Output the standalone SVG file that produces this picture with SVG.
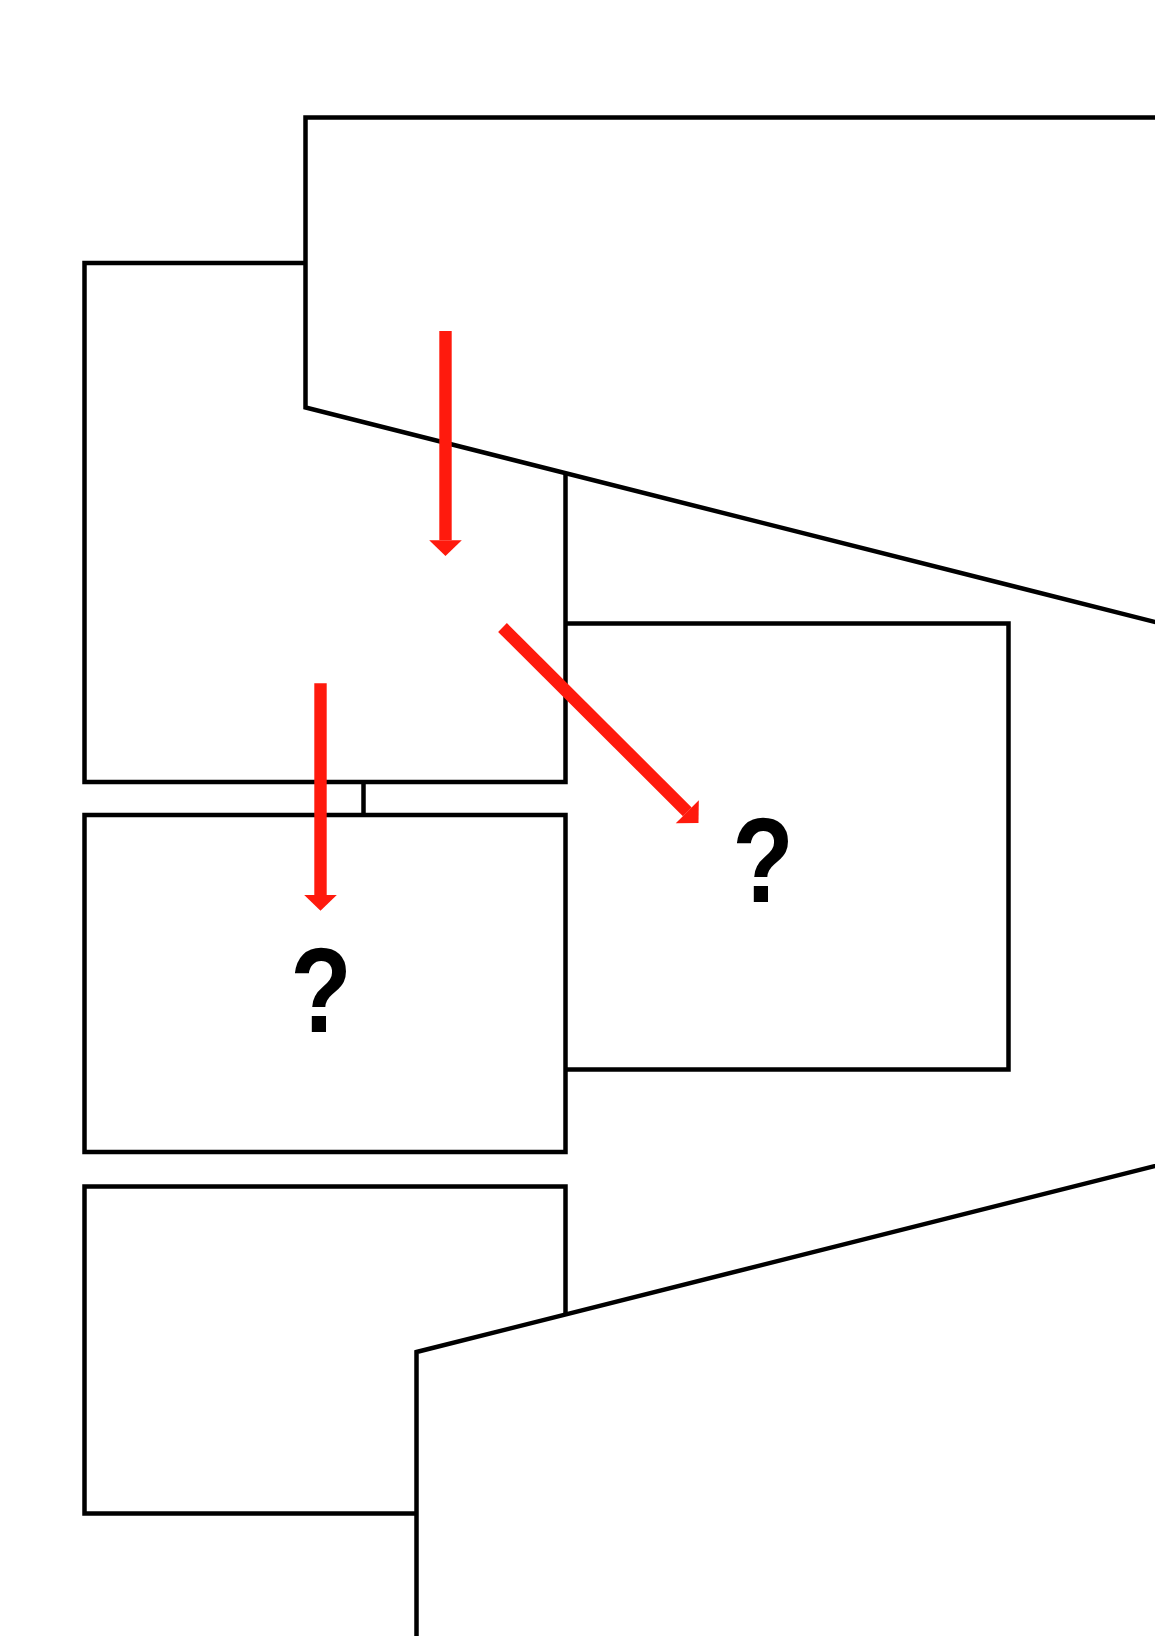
<svg xmlns="http://www.w3.org/2000/svg" width="1155" height="1636" viewBox="0 0 1155 1636">
  <style>
    .box { fill: #ffffff; stroke: #000000; stroke-width: 4.5; stroke-linejoin: miter; }
    .q { font-family: "Liberation Sans", Arial, sans-serif; font-weight: bold; font-size: 120px; fill: #000000; text-anchor: middle; }
    .arrow { stroke: #ff1a0d; stroke-width: 12.4; fill: none; stroke-linecap: butt; marker-end: url(#head); }
  </style>
  <defs>
    <marker id="head" markerUnits="userSpaceOnUse" markerWidth="17" markerHeight="33" refX="0" refY="16.3" orient="auto" overflow="visible">
      <path d="M0,0 L15.8,16.3 L0,32.6 Z" fill="#ff1a0d"/>
    </marker>
  </defs>
  <rect width="1155" height="1636" fill="#ffffff"/>

  <g id="node-right">
    <rect class="box" x="363.5" y="623.5" width="645" height="446"/>
  </g>
  <g id="node-left-1">
    <rect class="box" x="84.5" y="263" width="481" height="519"/>
  </g>
  <g id="node-left-2">
    <rect class="box" x="84.5" y="815" width="481" height="337"/>
    <text class="q" transform="translate(321,1031.5) scale(0.84,1)">?</text>
  </g>
  <g id="node-left-3">
    <rect class="box" x="84.5" y="1186.5" width="481" height="327"/>
  </g>
  <g id="node-top">
    <polygon class="box" points="305.5,117.5 1200,117.5 1200,633.4 305.5,407.5"/>
  </g>
  <g id="node-bottom">
    <polygon class="box" points="416.5,1352 1200,1154.7 1200,1700 416.5,1700"/>
  </g>
  <g id="node-right-label">
    <text class="q" transform="translate(763,902) scale(0.84,1)">?</text>
  </g>

  <g id="connectors">
    <line class="arrow" x1="445.5" y1="331" x2="445.5" y2="540.2"/>
    <line class="arrow" x1="320.5" y1="683.3" x2="320.5" y2="895"/>
    <line class="arrow" x1="502.5" y1="627.5" x2="687.3" y2="811.8"/>
  </g>
</svg>
